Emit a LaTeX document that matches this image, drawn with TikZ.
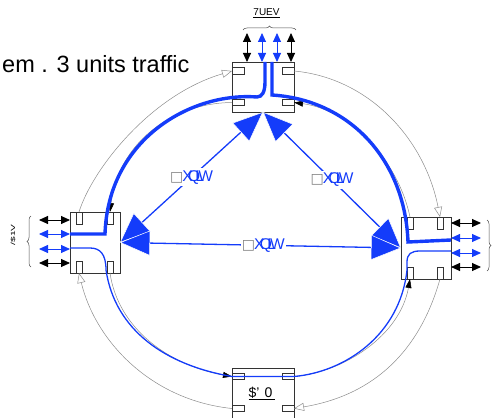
\documentclass[tikz,border=0pt]{standalone}
\usepackage{fontspec}
\setmainfont{Liberation Sans}
\newfontfamily\tightfont[LetterSpace=-30]{Liberation Sans}
\newfontfamily\boxfont{DejaVu Sans}
\usepackage{tikz}
\usetikzlibrary{arrows.meta,decorations.pathreplacing}
\usepackage{xcolor}
\definecolor{ringblue}{RGB}{20,60,250}
\definecolor{ringgray}{RGB}{140,140,140}
\newcommand{\unitlabel}{{\tightfont\fontsize{15.5}{15}\selectfont{\color{gray}\boxfont\fontsize{14}{14}\selectfont □\hspace{-1pt}}XQLW}}
\tikzstyle{router} = [rectangle, draw=black!80, line width=0.9pt, outer sep=0pt, inner sep=0pt]
\tikzstyle{porth} = [rectangle, draw=black!80, line width=0.8pt, outer sep=0pt, inner sep=0pt, minimum width=12pt, minimum height=6.5pt]
\tikzstyle{portv} = [rectangle, draw=black!80, line width=0.8pt, outer sep=0pt, inner sep=0pt, minimum width=6pt, minimum height=12pt]
\tikzstyle{thickring} = [line width=3.4pt, color=ringblue]
\tikzstyle{thinring} = [line width=1.3pt, color=ringblue]
\tikzstyle{outerring} = [line width=0.5pt, color=ringgray, -{Triangle[open,length=10pt,width=8pt]}]
\tikzstyle{innerring} = [line width=0.5pt, color=ringgray, -{Triangle[length=9pt,width=6pt,color=black]}]
\tikzstyle{linkarrow} = [line width=1.3pt, color=ringblue, {Triangle[length=30pt,width=25pt,fill=ringblue,color=white,line width=0.5pt]}-{Triangle[length=30pt,width=25pt,fill=ringblue,color=white,line width=0.5pt]}]
\tikzstyle{tribblack} = [line width=0.9pt, color=black, {Triangle[length=9pt,width=8pt]}-{Triangle[length=9pt,width=8pt]}]
\tikzstyle{tribblue} = [line width=0.9pt, color=ringblue, {Triangle[length=9pt,width=8pt]}-{Triangle[length=9pt,width=8pt]}]
\tikzstyle{tribbrace} = [line width=0.5pt, color=black!70, decorate, decoration={brace, amplitude=4pt}]
\begin{document}
\begin{tikzpicture}[x=1pt, y=-1pt]
\useasboundingbox (0,0) rectangle (497,417);
\clip (0,0) rectangle (497,417);

% Routers
\node (top) [router, minimum width=62pt, minimum height=50pt] at (263,87) {};
\node (left) [router, minimum width=50pt, minimum height=61pt] at (95,242.5) {};
\node (right) [router, minimum width=50pt, minimum height=62pt] at (426,248) {};
\node (bottom) [router, minimum width=62pt, minimum height=52pt] at (263,394) {};

% Ports
\node (topnw) [porth] at (238,71) {};
\node (topne) [porth] at (288,71) {};
\node (topsw) [porth] at (238,102.5) {};
\node (topse) [porth] at (288,102.5) {};
\node (leftnw) [portv] at (79,218) {};
\node (leftne) [portv] at (110,218) {};
\node (leftsw) [portv] at (79,267) {};
\node (leftse) [portv] at (110,267) {};
\node (rightnw) [portv] at (410,223) {};
\node (rightne) [portv] at (440,223) {};
\node (rightsw) [portv] at (410,273) {};
\node (rightse) [portv] at (440,273) {};
\node (bottomnw) [porth] at (238,376.5) {};
\node (bottomne) [porth] at (288,376.5) {};
\node (bottomsw) [porth] at (238,408.5) {};
\node (bottomse) [porth] at (288,408.5) {};

% Outer ring
\draw[outerring] (leftnw.north) .. controls (92,170) and (150,95) .. (topnw.west);
\draw[outerring] (topne.east) .. controls (370,78) and (425,140) .. (rightne.north);
\draw[outerring] (rightse.south) .. controls (420,350) and (375,395) .. (bottomse.east);
\draw[outerring] (bottomsw.west) .. controls (150,400) and (95,340) .. (leftsw.south);

% Inner ring
\draw[innerring] (topsw.west) .. controls (170,103) and (118,145) .. (leftne.north);
\draw[innerring] (rightnw.north) .. controls (398,160) and (350,110) .. (topse.east);
\draw[innerring] (leftse.south) .. controls (118,328) and (168,365) .. (bottomnw.west);
\draw[innerring] (bottomne.east) .. controls (345,372) and (400,335) .. (rightsw.south);

% Traffic on the ring
\coordinate (inone) at (265,62);
\coordinate (intwo) at (272,62);
\coordinate (outone) at (70,234);
\coordinate (outtwo) at (451,240);
\coordinate (passone) at (70,248);
\coordinate (passtwo) at (451,251);
\draw[thickring] (inone) -- (265,82) .. controls (265,92) and (262,97) .. (257,97) .. controls (190,92) and (108,140) .. (105,234) -- (outone);
\draw[thickring] (intwo) -- (272,95) .. controls (350,100) and (405,160) .. (408,242) -- (outtwo);
\draw[thinring] (passone) -- (90,248) .. controls (100,248) and (106,254) .. (106,270) .. controls (115,330) and (165,365) .. (bottomnw.west) -- (bottomne.east) .. controls (345,372) and (400,335) .. (407,270) -- (407,262) .. controls (407,254) and (411,251) .. (420,251) -- (passtwo);

% Links between routers
\draw[linkarrow] (top.south) -- node[fill=white, inner sep=2pt] {\unitlabel} (left.east);
\draw[linkarrow] (top.south) -- node[fill=white, inner sep=2pt] {\unitlabel} (right.west);
\draw[linkarrow] (left.east) -- node[pos=0.51, fill=white, inner sep=1pt] {\unitlabel} (right.west);

% Tribs at the top
\coordinate (ta) at (247,33);
\coordinate (tb) at (262,33);
\coordinate (tc) at (277,33);
\coordinate (td) at (291,33);
\draw[tribblack] (ta) -- (ta |- top.north);
\draw[tribblue] (tb) -- (tb |- top.north);
\draw[tribblue] (tc) -- (tc |- top.north);
\draw[tribblack] (td) -- (td |- top.north);
\coordinate (bracetopa) at (243,30);
\coordinate (bracetopb) at (296,30);
\draw[tribbrace] (bracetopa) -- (bracetopb);
\node (toplabel) [font=\fontsize{10}{10}\selectfont, inner sep=0pt] at (266.5,13) {\underline{7UEV}};

% LANs at the left
\coordinate (la) at (39,220);
\coordinate (lb) at (39,234);
\coordinate (lc) at (39,249);
\coordinate (ld) at (39,263);
\draw[tribblack] (la) -- (la -| left.west);
\draw[tribblue] (lb) -- (lb -| left.west);
\draw[tribblue] (lc) -- (lc -| left.west);
\draw[tribblack] (ld) -- (ld -| left.west);
\coordinate (bracelefta) at (31,267);
\coordinate (braceleftb) at (31,216);
\draw[tribbrace] (bracelefta) -- (braceleftb);
\node (leftlabel) [rotate=90, font=\fontsize{6}{6}\selectfont, inner sep=0pt] at (13,235) {\scalebox{1.7}[1]{/\$1V}};

% Tribs at the right
\coordinate (ra) at (481,223);
\coordinate (rb) at (481,238);
\coordinate (rc) at (481,253);
\coordinate (rd) at (481,267);
\draw[tribblack] (ra -| right.east) -- (ra);
\draw[tribblue] (rb -| right.east) -- (rb);
\draw[tribblue] (rc -| right.east) -- (rc);
\draw[tribblack] (rd -| right.east) -- (rd);
\coordinate (bracerighta) at (487,220);
\coordinate (bracerightb) at (487,271);
\draw[tribbrace] (bracerighta) -- (bracerightb);

% Texts
\node (bottomlabel) [font=\fontsize{14}{14}\selectfont, inner sep=0pt, anchor=base] at (262,397) {\underline{\$'\hspace{5pt}0\hspace{3pt}}};
\node (title) [font=\fontsize{23.5}{24}\selectfont, inner sep=0pt, anchor=base west] at (2,73) {em . 3 units traffic};
\end{tikzpicture}
\end{document}
